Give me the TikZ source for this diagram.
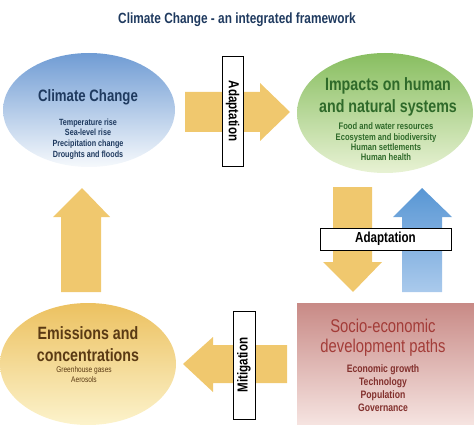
\documentclass[tikz,border=0pt]{standalone}
\usepackage{fontspec}
\newfontfamily\narrowsf{Liberation Sans}[FakeStretch=0.8]
\usetikzlibrary{shapes.geometric}
\definecolor{navy}{HTML}{1F3A5F}
\definecolor{leafdark}{HTML}{2F6A2A}
\definecolor{brickred}{HTML}{A33C38}
\definecolor{sienna}{HTML}{5A3A14}
\definecolor{arrowyellow}{HTML}{F0C86E}
\tikzstyle{blob} = [ellipse, draw=none, inner sep=0pt]
\tikzstyle{tag} = [rectangle, draw=black, fill=white, line width=0.8pt, inner sep=0pt,
    font=\narrowsf\bfseries\fontsize{14.5}{16}\selectfont]
\tikzstyle{headline} = [align=center, inner sep=0pt, font=\narrowsf\bfseries\fontsize{17.8}{22}\selectfont]
\tikzstyle{items} = [align=center, inner sep=0pt]

\begin{document}
\begin{tikzpicture}[x=1pt,y=-1pt]
                        \useasboundingbox (0,0) rectangle (474,425);
                        % title
                        \node[inner sep=0pt, text=navy, font=\narrowsf\bfseries\fontsize{14.8}{17}\selectfont]
                            (title) at (237,20) {Climate Change - an integrated framework};
                        % the four parts of the cycle
                        \node[blob, top color={rgb,255:red,112;green,156;blue,212}, bottom color={rgb,255:red,246;green,249;blue,252},
                            minimum width=172pt, minimum height=114pt]
                            (climate) at (89,110) {};
                        \node[blob, top color={rgb,255:red,136;green,190;blue,96}, bottom color={rgb,255:red,232;green,242;blue,212},
                            minimum width=176pt, minimum height=120pt]
                            (impacts) at (385,113) {};
                        \node[blob, top color={rgb,255:red,236;green,193;blue,96}, bottom color={rgb,255:red,252;green,243;blue,204},
                            minimum width=176pt, minimum height=122pt]
                            (emissions) at (88,364) {};
                        \node[rectangle, draw=none, inner sep=0pt,
                            top color={rgb,255:red,200;green,138;blue,134}, bottom color={rgb,255:red,246;green,228;blue,225},
                            minimum width=177pt, minimum height=122pt]
                            (socio) at (385.5,364) {};
                        % texts
                        \node[headline, text=navy, font=\narrowsf\bfseries\fontsize{16.5}{20}\selectfont]
                            (climatehead) at (88,97) {Climate Change};
                        \node[items, text=navy, font=\narrowsf\bfseries\fontsize{9}{10.7}\selectfont]
                            (climatelist) at (88,139) {Temperature rise \\ Sea-level rise \\ Precipitation change \\ Droughts and floods};
                        \node[headline, text=leafdark]
                            (impactshead) at (388,97) {Impacts on human \\ and natural systems};
                        \node[items, text=leafdark, font=\narrowsf\bfseries\fontsize{9.5}{10.3}\selectfont]
                            (impactslist) at (386,142) {Food and water resources \\ Ecosystem and biodiversity \\ Human settlements \\ Human health};
                        \node[headline, text=sienna]
                            (emissionshead) at (88,344) {Emissions and \\ concentrations};
                        \node[items, text=sienna, font=\narrowsf\fontsize{8.2}{10}\selectfont]
                            (emissionslist) at (84,375) {Greenhouse gases \\ Aerosols};
                        \node[headline, text=brickred, font=\narrowsf\fontsize{18.5}{20}\selectfont]
                            (sociohead) at (383,338) {Socio-economic \\ development paths};
                        \node[items, text=brickred!80!black, font=\narrowsf\bfseries\fontsize{10.8}{13}\selectfont]
                            (sociolist) at (383,388) {Economic growth \\ Technology \\ Population \\ Governance};
                        % block arrows
                        \fill[arrowyellow] (185,92) -- (260,92) -- (260,83) -- (290,112) -- (260,141) -- (260,132) -- (185,132) -- cycle;
                        \fill[arrowyellow] (61,292) -- (61,217) -- (53,217) -- (82,188) -- (110,217) -- (101,217) -- (101,292) -- cycle;
                        \fill[arrowyellow] (333,187) -- (372,187) -- (372,262) -- (382,262) -- (353,292) -- (323,262) -- (333,262) -- cycle;
                        \shade[top color={rgb,255:red,88;green,150;blue,212}, bottom color={rgb,255:red,170;green,202;blue,236}]
                            (402,292) -- (402,217) -- (393,217) -- (422,188) -- (452,217) -- (442,217) -- (442,292) -- cycle;
                        \fill[arrowyellow] (287,345) -- (213,345) -- (213,337) -- (183,364) -- (213,392) -- (213,383) -- (287,383) -- cycle;
                        % labels on the arrows
                        \node[tag, rotate=-90, minimum width=110pt, minimum height=21pt] (adapttop) at (232.5,111) {Adaptation};
                        \node[tag, minimum width=131pt, minimum height=22pt] (adaptmid) at (385.5,239) {Adaptation};
                        \node[tag, rotate=90, minimum width=108pt, minimum height=22pt] (mitigate) at (244,365) {Mitigation};
                    \end{tikzpicture}
\end{document}
